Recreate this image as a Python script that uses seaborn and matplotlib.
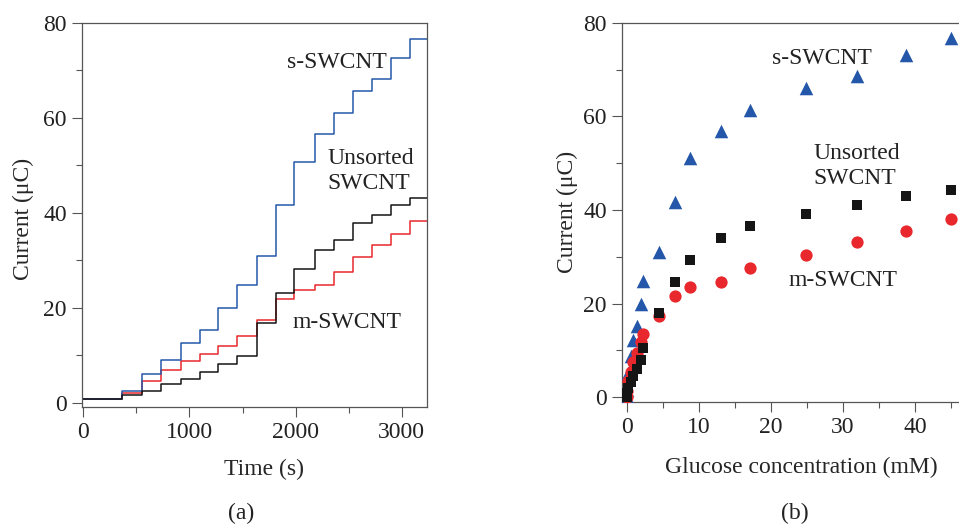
import matplotlib
matplotlib.use("Agg")
import matplotlib.pyplot as plt
import seaborn as sns
from matplotlib.ticker import MultipleLocator

# (a) chronoamperometry: time of each glucose addition (s) and current plateau (uC)
step_time = [0, 367, 550, 732, 917, 1096, 1272, 1451, 1633, 1812, 1988,
             2183, 2362, 2544, 2720, 2896, 3078, 3240]
s_level = [0.85, 2.45, 6.0, 9.0, 12.5, 15.3, 19.9, 24.8, 31.0, 41.6, 50.7,
           56.6, 61.0, 65.6, 68.2, 72.6, 76.5]
m_level = [0.85, 2.0, 4.7, 6.9, 8.8, 10.2, 11.9, 14.0, 17.5, 21.8, 23.7,
           24.8, 27.6, 30.6, 33.2, 35.5, 38.2]
u_level = [0.85, 1.6, 2.6, 3.9, 5.1, 6.5, 8.1, 9.8, 16.9, 23.1, 28.1,
           32.2, 34.2, 37.9, 39.6, 41.6, 43.2]

# (b) calibration: glucose concentration (mM) vs current (uC)
conc = [0, 0.1, 0.25, 0.56, 0.93, 1.4, 1.96, 2.25, 4.5, 6.7, 8.8,
        13.1, 17.1, 24.9, 31.9, 38.75, 45]
s_current = [0, 1.6, 5.1, 8.9, 12.3, 15.3, 20.0, 24.8, 31.1, 41.7, 51.0,
             56.8, 61.4, 66.0, 68.6, 73.0, 76.7]
m_current = [0, 1.3, 3.5, 5.5, 7.5, 9.5, 11.9, 13.6, 17.4, 21.6, 23.6,
             24.6, 27.5, 30.4, 33.1, 35.5, 38.0]
u_current = [0, 1.0, 2.0, 3.2, 4.5, 6.0, 8.0, 10.5, 17.9, 24.6, 29.4,
             34.1, 36.6, 39.1, 41.0, 43.0, 44.2]
conc_ticks = [0, 10, 20, 30, 40]

BLUE = "#2457aa"
RED = "#e8282c"
BLACK = "#151515"
SPINE = "#555555"
FS = 17

sns.set_theme(style="ticks")
plt.rcParams["font.family"] = ["Liberation Serif", "DejaVu Serif"]

W, H = 959, 524
fig = plt.figure(figsize=(W / 100, H / 100), dpi=100)


def px_axes(left, top, right, bottom):
    return fig.add_axes([left / W, 1 - bottom / H, (right - left) / W, (bottom - top) / H])


def style_axes(ax):
    for side in ["left", "bottom", "top", "right"]:
        ax.spines[side].set_color(SPINE)
        ax.spines[side].set_linewidth(0.9)
    ax.tick_params(which="both", direction="out", color=SPINE, width=0.8,
                   labelsize=FS, labelcolor="#222222", pad=4)
    ax.tick_params(which="major", length=7)
    ax.tick_params(which="minor", length=4)
    ax.tick_params(axis="x", which="both", top=False)
    ax.tick_params(axis="y", which="both", right=False)


# panel (a)
ax1 = px_axes(82, 22.7, 426.7, 406.7)
sns.lineplot(x=step_time, y=m_level + [m_level[-1]], drawstyle="steps-post",
             color=RED, lw=1.1, ax=ax1)
sns.lineplot(x=step_time, y=s_level + [s_level[-1]], drawstyle="steps-post",
             color=BLUE, lw=1.1, ax=ax1)
sns.lineplot(x=step_time, y=u_level + [u_level[-1]], drawstyle="steps-post",
             color=BLACK, lw=1.1, ax=ax1)
ax1.set_xlim(-12, 3235)
ax1.set_ylim(-0.8, 80)
ax1.xaxis.set_major_locator(MultipleLocator(1000))
ax1.xaxis.set_minor_locator(MultipleLocator(500))
ax1.yaxis.set_major_locator(MultipleLocator(20))
ax1.yaxis.set_minor_locator(MultipleLocator(10))
style_axes(ax1)
ax1.set_xlabel("Time (s)", fontsize=FS)
ax1.set_ylabel("Current (μC)", fontsize=FS)
ax1.xaxis.set_label_coords((264 - 82) / (426.7 - 82), -0.135)
ax1.yaxis.set_label_coords(-0.14, 0.49)

# panel (b) - the right part of the axes runs past the figure edge
ax2 = px_axes(622, 22.7, 987, 401.7)
sns.scatterplot(x=conc, y=s_current, marker="^", s=95, color=BLUE,
                linewidth=0, ax=ax2, zorder=3)
sns.scatterplot(x=conc, y=m_current, marker="o", s=78, color=RED,
                linewidth=0, ax=ax2, zorder=4)
sns.scatterplot(x=conc, y=u_current, marker="s", s=62, color=BLACK,
                linewidth=0, ax=ax2, zorder=5)
ax2.set_xlim(-0.65, 50)
ax2.set_ylim(-0.95, 80)
ax2.set_xticks(conc_ticks)
ax2.xaxis.set_minor_locator(MultipleLocator(5))
ax2.yaxis.set_major_locator(MultipleLocator(20))
ax2.yaxis.set_minor_locator(MultipleLocator(10))
style_axes(ax2)
ax2.spines["right"].set_visible(False)
ax2.set_xlabel("Glucose concentration (mM)", fontsize=FS)
ax2.set_ylabel("Current (μC)", fontsize=FS)
ax2.xaxis.set_label_coords((801 - 622) / (987 - 622), -0.145)
ax2.yaxis.set_label_coords(-0.12, 0.5)


# curve labels
def ftext(x, y, s, ha="center"):
    fig.text(x / W, 1 - y / H, s, fontsize=FS, ha=ha, va="center",
             color="#222222", linespacing=1.3)


ftext(337, 63, "s-SWCNT")
ftext(327, 171, "Unsorted\nSWCNT", ha="left")
ftext(347, 323, "m-SWCNT")
ftext(822, 58, "s-SWCNT")
ftext(813, 166, "Unsorted\nSWCNT", ha="left")
ftext(843, 281, "m-SWCNT")
ftext(241, 513, "(a)")
ftext(795, 513, "(b)")

fig.savefig("out.png", dpi=100)
